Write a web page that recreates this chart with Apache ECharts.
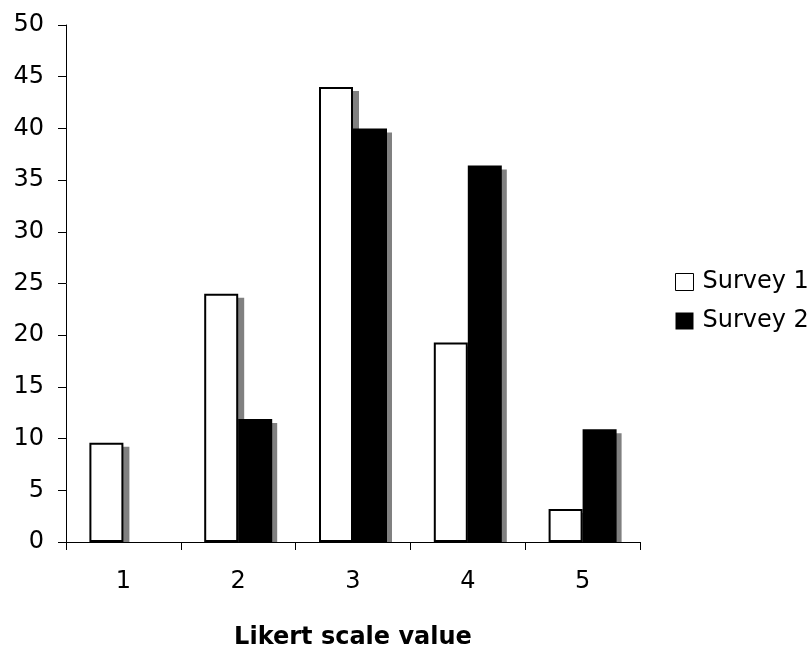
<!DOCTYPE html>
<html>
<head>
<meta charset="utf-8">
<script src="https://cdn.jsdelivr.net/npm/echarts@6/dist/echarts.min.js"></script>
<style>html,body{margin:0;padding:0;background:#fff;overflow:hidden}#c{width:811px;height:655px}</style>
</head>
<body>
<div id="c"></div>
<script>
var categories = ['1', '2', '3', '4', '5'];
var survey1 = [9.6, 24.0, 44.0, 19.3, 3.2];
var survey2 = [0, 11.9, 40.0, 36.4, 10.9];
var yTicks = [0, 5, 10, 15, 20, 25, 30, 35, 40, 45, 50];

var FONT = 'DejaVu Sans';
var FS = 24;
var BAR_W = 34;
var SH_Y = 4;

function shadowItem(side) {
  return function (params, api) {
    var cat = api.value(0), v = api.value(1);
    if (!v) return null;
    var top = api.coord([cat, v]);
    var base = api.coord([cat, 0]);
    var x = top[0] + (side === 0 ? -BAR_W + 6 : 5);
    var y = top[1] + SH_Y;
    return {
      type: 'rect',
      shape: { x: x, y: y, width: BAR_W, height: Math.max(0, base[1] - y) },
      style: { fill: '#808080' }
    };
  };
}

var chart = echarts.init(document.getElementById('c'));
chart.setOption({
  animation: false,
  backgroundColor: '#fff',
  textStyle: { fontFamily: FONT },
  grid: { left: 66, right: 171, top: 25, bottom: 90, containLabel: false },
  legend: {
    orient: 'vertical',
    left: 670,
    top: 265,
    itemWidth: 18,
    itemHeight: 17,
    itemGap: 15,
    icon: 'rect',
    textStyle: { fontFamily: FONT, fontSize: FS, lineHeight: 24, color: '#000', padding: [0, 0, 0, 4] },
    data: [
      { name: 'Survey 1', itemStyle: { color: '#fff', borderColor: '#000', borderWidth: 1 } },
      { name: 'Survey 2', itemStyle: { color: '#000', borderWidth: 0 } }
    ]
  },
  xAxis: {
    type: 'category',
    data: categories,
    name: 'Likert scale value',
    nameLocation: 'middle',
    nameGap: 84,
    nameTextStyle: { fontFamily: FONT, fontSize: FS, fontWeight: 'bold', color: '#000' },
    axisLine: { lineStyle: { color: '#000', width: 1 } },
    axisTick: { show: true, length: 8, inside: false, lineStyle: { color: '#000' } },
    axisLabel: { fontFamily: FONT, fontSize: FS, color: '#000', margin: 28 },
    splitLine: { show: false }
  },
  yAxis: {
    type: 'value',
    min: 0,
    max: yTicks[yTicks.length - 1],
    interval: yTicks[1] - yTicks[0],
    axisLine: { show: true, lineStyle: { color: '#000', width: 1 } },
    axisTick: { show: true, length: 8, lineStyle: { color: '#000' } },
    axisLabel: { fontFamily: FONT, fontSize: FS, color: '#000', margin: 22 },
    splitLine: { show: false }
  },
  series: [
    { name: 'shadow1', type: 'custom', z: 1, silent: true, renderItem: shadowItem(0), encode: { x: 0, y: 1 }, data: survey1.map(function (v, i) { return [i, v]; }) },
    { name: 'shadow2', type: 'custom', z: 1, silent: true, renderItem: shadowItem(1), encode: { x: 0, y: 1 }, data: survey2.map(function (v, i) { return [i, v]; }) },
    { name: 'Survey 1', type: 'bar', z: 2, data: survey1, barWidth: BAR_W, barGap: '0%', itemStyle: { color: '#fff', borderColor: '#000', borderWidth: 2 } },
    { name: 'Survey 2', type: 'bar', z: 2, data: survey2, barWidth: BAR_W, barGap: '0%', itemStyle: { color: '#000', borderWidth: 0 } }
  ]
});
</script>
</body>
</html>
